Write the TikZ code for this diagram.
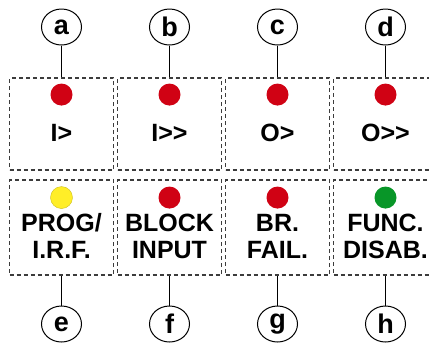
\documentclass[tikz,border=0pt]{standalone}
\usepackage{fontspec}
\setmainfont{Liberation Sans}
\usetikzlibrary{positioning, calc, shapes.geometric}

\definecolor{ledred}{RGB}{208,2,20}
\definecolor{ledyellow}{RGB}{255,238,40}
\definecolor{ledgreen}{RGB}{8,150,40}
\definecolor{dashgray}{RGB}{60,60,60}

\begin{document}
\begin{tikzpicture}[x=1pt, y=-1pt,
    panel/.style={draw=dashgray, dash pattern=on 4pt off 3pt, line width=1.3pt,
      minimum width=104pt, inner sep=0pt},
    toppanel/.style={panel, minimum height=92pt},
    botpanel/.style={panel, minimum height=95pt},
    tag/.style={ellipse, draw, line width=1pt, minimum width=40pt, minimum height=36pt,
      inner sep=0pt, font=\fontsize{27}{27}\selectfont\bfseries},
    led/.style={circle, minimum size=22pt, inner sep=0pt},
    lbl/.style={align=center, inner sep=0pt, font=\fontsize{25}{27}\selectfont\bfseries}]

  \path[use as bounding box, clip] (0,0) rectangle (429,346);

  % top row of panels
  \node[toppanel] (pa) at (61.5,124) {};
  \node[toppanel] (pb) at (169.5,124) {};
  \node[toppanel] (pc) at (277.5,124) {};
  \node[toppanel] (pd) at (385.5,124) {};

  % bottom row of panels
  \node[botpanel] (pe) at (61.5,227.5) {};
  \node[botpanel] (pf) at (169.5,227.5) {};
  \node[botpanel] (pg) at (277.5,227.5) {};
  \node[botpanel] (ph) at (385.5,227.5) {};

  % leds
  \node[led, fill=ledred, below=6pt of pa.north] (la) {};
  \node[led, fill=ledred, below=6pt of pb.north] (lb) {};
  \node[led, fill=ledred, below=6pt of pc.north] (lc) {};
  \node[led, fill=ledred, below=6pt of pd.north] (ld) {};
  \node[led, fill=ledyellow, draw=ledyellow!80!black, line width=0.4pt, below=7pt of pe.north] (le) {};
  \node[led, fill=ledred, below=7pt of pf.north] (lf) {};
  \node[led, fill=ledred, below=7pt of pg.north] (lg) {};
  \node[led, fill=ledgreen, below=7pt of ph.north] (lh) {};

  % texts
  \node[lbl] (ta) at ($(pa.north)+(0,56)$) {I>};
  \node[lbl] (tb) at ($(pb.north)+(0,56)$) {I>{}>};
  \node[lbl] (tc) at ($(pc.north)+(0,56)$) {O>};
  \node[lbl] (td) at ($(pd.north)+(0,56)$) {O>{}>};
  \node[lbl] (te) at ($(pe.north)+(0,57)$) {PROG/\\I.R.F.};
  \node[lbl] (tf) at ($(pf.north)+(0,57)$) {BLOCK\\INPUT};
  \node[lbl] (tg) at ($(pg.north)+(0,57)$) {BR.\\FAIL.};
  \node[lbl] (th) at ($(ph.north)+(0,57)$) {FUNC.\\DISAB.};

  % letter tags
  \node[tag] (a) at (61.5,27) {a};
  \node[tag] (b) at (169.5,27) {b};
  \node[tag] (c) at (277.5,27) {c};
  \node[tag] (d) at (385.5,27) {d};
  \node[tag] (e) at (61.5,324) {e};
  \node[tag] (f) at (169.5,324) {f};
  \node[tag] (g) at (277.5,324) {g};
  \node[tag] (h) at (385.5,324) {h};

  \draw[line width=1pt] (a) -- (pa);
  \draw[line width=1pt] (b) -- (pb);
  \draw[line width=1pt] (c) -- (pc);
  \draw[line width=1pt] (d) -- (pd);
  \draw[line width=1pt] (e) -- (pe);
  \draw[line width=1pt] (f) -- (pf);
  \draw[line width=1pt] (g) -- (pg);
  \draw[line width=1pt] (h) -- (ph);
\end{tikzpicture}
\end{document}
